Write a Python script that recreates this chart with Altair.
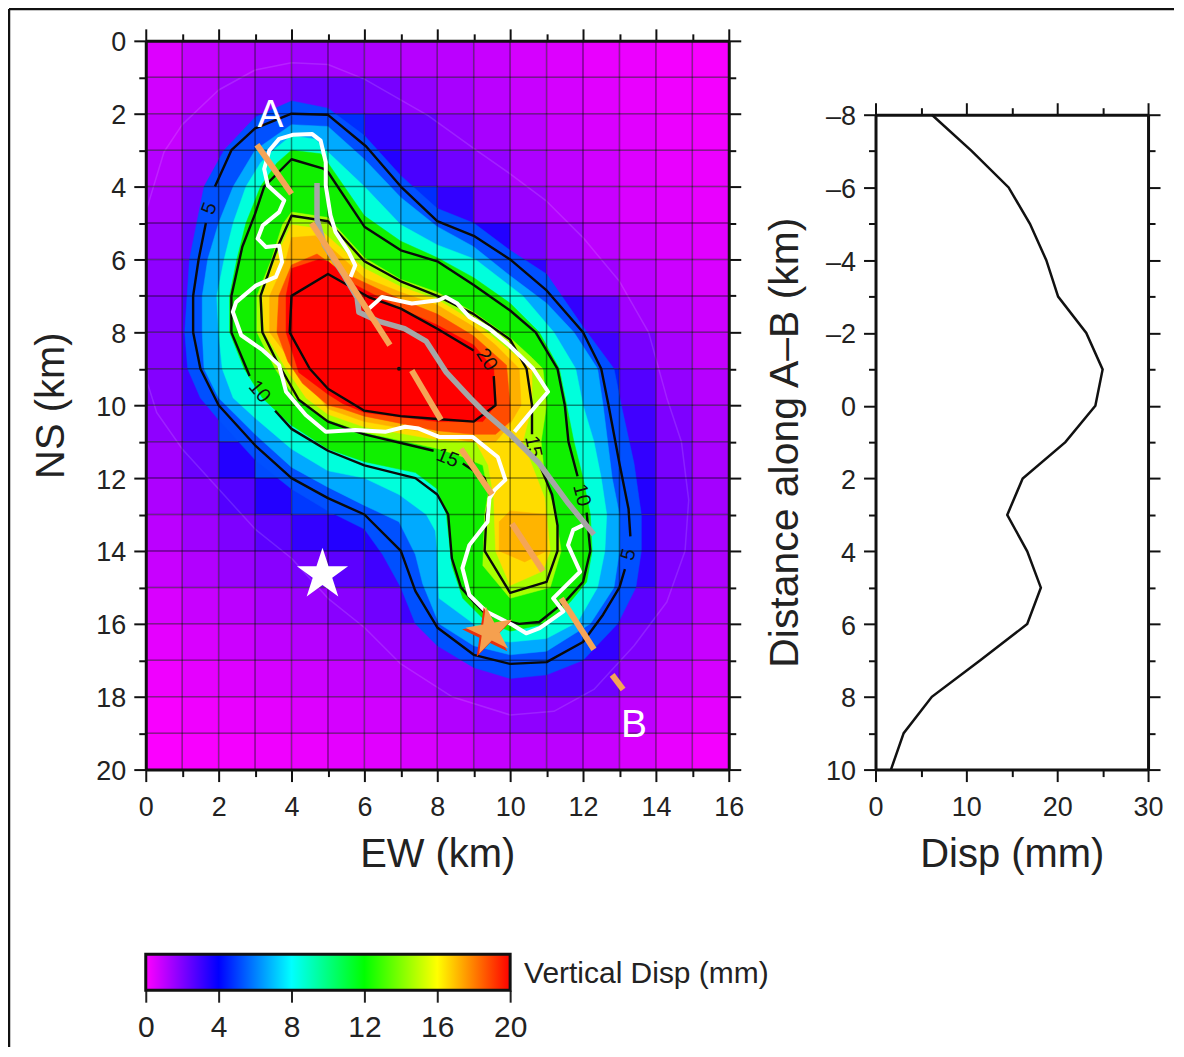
import altair as alt

FONT = "Liberation Sans"

# ---------- background cell values (mm), rows NS 0-19, cols EW 0-15
cells = [
 [0.9,1.5,1.8,2.0,2.3,2.2,2.0,1.8,1.7,1.4,1.1,0.9,0.6,0.5,0.3,0.2],
 [1.2,1.8,2.3,2.7,3.2,3.3,3.0,2.5,2.1,1.7,1.4,1.1,0.8,0.6,0.4,0.3],
 [1.5,2.2,3.0,3.6,4.2,4.2,3.8,3.3,2.6,2.1,1.7,1.3,1.0,0.8,0.5,0.4],
 [1.8,2.6,3.6,4.0,4.5,4.5,3.9,3.6,3.1,2.5,2.0,1.6,1.2,0.9,0.6,0.5],
 [2.1,3.0,3.7,4.5,4.5,4.5,4.5,4.2,3.8,3.0,2.4,1.9,1.4,1.0,0.8,0.6],
 [2.4,3.2,4.0,4.5,4.5,4.5,4.5,4.5,4.5,3.9,3.0,2.3,1.7,1.3,1.0,0.8],
 [2.6,3.5,4.2,4.5,4.5,4.5,4.5,4.5,4.5,4.5,3.8,3.0,2.3,1.7,1.3,1.0],
 [2.8,3.7,4.5,4.5,4.5,4.5,4.5,4.5,4.5,4.5,4.5,3.8,3.3,2.3,1.7,1.3],
 [2.8,3.8,4.5,4.5,4.5,4.5,4.5,4.5,4.5,4.5,4.5,4.5,3.7,3.0,2.1,1.5],
 [2.8,3.7,4.5,4.5,4.5,4.5,4.5,4.5,4.5,4.5,4.5,4.5,4.1,3.5,2.5,1.8],
 [2.6,3.5,4.5,4.5,4.5,4.5,4.5,4.5,4.5,4.5,4.5,4.5,4.5,3.7,2.9,2.0],
 [2.3,3.2,3.9,4.5,4.5,4.5,4.5,4.5,4.5,4.5,4.5,4.5,4.5,3.8,3.0,2.1],
 [2.0,2.8,3.5,3.9,4.3,4.5,4.5,4.5,4.5,4.5,4.5,4.5,4.5,3.9,3.1,2.2],
 [1.7,2.3,2.9,3.4,3.8,3.9,3.9,4.5,4.5,4.5,4.5,4.5,4.5,3.9,3.0,2.1],
 [1.4,1.9,2.4,2.7,3.0,3.4,3.7,3.9,4.5,4.5,4.5,4.5,4.5,3.8,2.9,2.0],
 [1.0,1.4,1.7,2.1,2.4,2.7,3.1,3.7,4.0,4.5,4.5,4.5,4.0,3.4,2.5,1.7],
 [0.7,1.0,1.3,1.6,1.8,2.1,2.4,2.8,3.4,3.9,4.2,4.0,3.8,2.9,2.1,1.4],
 [0.4,0.7,0.9,1.1,1.3,1.5,1.7,2.1,2.6,3.2,3.6,3.5,3.1,2.3,1.6,1.1],
 [0.2,0.4,0.6,0.7,0.9,1.1,1.2,1.5,1.9,2.3,2.6,2.6,2.2,1.6,1.1,0.7],
 [0.1,0.2,0.3,0.4,0.5,0.7,0.8,1.0,1.2,1.5,1.7,1.7,1.4,1.0,0.6,0.3],
]
cpt_values = [0, 4, 8, 12, 16, 20]
cpt_colors = ["#ff00ff", "#0000ff", "#00ffff", "#00ff00", "#ffff00", "#ff0000"]

# ---------- filled bands (EW km, NS km)
band_blue = [(1.07,8),(1.2,6),(1.6,4),(2.15,3),(3,2.1),(4,1.65),(5,1.85),(6,2.6),(7,3.7),(8,4.6),(9,5),(10,5.75),(11,6.4),(12,7.85),(12.85,9),(13.05,10),(13.4,11.6),(13.6,13),(13.6,14),(13.45,15),(12.95,16),(12,17),(11,17.4),(10,17.5),(9,17.2),(8,16.6),(7.4,16),(7,15),(6.5,14.1),(6,13.4),(5,12.9),(4,12.3),(3,11.5),(2,10.4),(1.5,9.8),(1.15,9)]
band_azure = [(1.55,8),(1.55,7),(1.7,6),(2,5),(2.4,4),(3,3),(4,2.3),(5,2.35),(6,3.25),(7,4.3),(8,5.1),(9,5.65),(10,6.45),(11,7.2),(11.75,8),(12.4,9),(12.55,10),(12.8,12),(13,13),(13,14),(12.85,15),(12.2,16),(11,16.75),(10,16.85),(9,16.6),(8.05,16),(7.6,14.9),(7.4,14.1),(6.95,13.2),(6,12.75),(5,12.25),(4,11.7),(3,10.8),(2,9.8),(1.6,9)]
band_teal = [(2,8),(1.95,7),(2.15,6),(2.4,5),(2.75,4),(3.15,3.35),(3.5,3),(4,2.6),(4.65,2.7),(5,3.05),(6,4),(7,5.05),(8,5.6),(9.05,6),(10.35,7),(11.2,8),(11.8,9),(12,10),(12.3,11),(12.5,12),(12.65,13),(12.6,14),(12.4,15),(11.85,15.95),(11,16.4),(10,16.5),(9.3,16.4),(9,16),(8.05,15.3),(8,14),(7.95,13.45),(7.7,13),(6.95,12.45),(6,12),(5,11.8),(4,11.2),(3,10.35),(2.4,9.8),(2.1,9)]
band_green = [(2.3,8),(2.3,7),(2.5,6),(2.75,5),(3.15,4),(3.6,3.35),(4,3),(4.8,3.1),(5,3.35),(6,4.8),(7,5.5),(8,5.95),(9,6.5),(10,7.2),(10.8,8),(11.35,9),(11.55,10),(11.75,11),(12,12),(12.2,13),(12.25,14),(12.1,14.85),(11.65,15.4),(11,16),(10,16.2),(9.35,15.95),(8.7,15.3),(8.4,14.4),(8.25,13),(8,12.3),(7.4,11.85),(6,11.55),(5,11.2),(4,10.55),(3.2,9.8),(2.7,9)]
band_lime = [(3.05,8),(3.05,7),(3.45,6),(3.75,5.05),(4,4.7),(5,4.85),(6,5.95),(7,6.55),(8,6.9),(9,7.45),(10,8.15),(10.6,8.7),(10.9,9),(11,10),(10.85,11),(10.95,12),(11.25,13),(11.4,14),(11.1,15),(10,15.3),(9.25,14.4),(9.3,13),(9.4,12.4),(9.25,11.65),(8.65,11.4),(8.05,11.2),(6,10.75),(5,10.4),(4.1,9.8),(3.55,9)]
band_yellow = [(3.25,8),(3.2,7),(3.55,6),(3.85,5.35),(4,5.05),(4.75,5.15),(6,6.25),(7,6.75),(8,7.1),(9,7.7),(9.8,8.35),(10.6,9),(10.6,10),(10.35,11),(10.6,11.65),(10.95,12.55),(11.1,14),(10.9,14.55),(10,14.95),(9.6,14),(9.55,12.55),(9.4,11.65),(9.05,11),(8,10.95),(6,10.6),(5,10.25),(4.4,9.8),(3.85,9)]
band_orange = [(3.4,8),(3.4,7),(3.85,6),(4,5.4),(4.65,5.35),(5,5.6),(6,6.5),(7,6.9),(8,7.25),(9,7.85),(9.6,8.35),(10.25,9),(10.3,10),(9.95,10.6),(9.6,11),(8.9,11),(8,10.8),(6,10.45),(5,10.1),(4.15,9)]
band_orange_south = [(9.7,13.2),(10,12.9),(11,13),(11,14),(10.4,14.3),(9.7,14)]
band_redorange = [(3.6,8),(3.65,7),(4,6.15),(4.7,5.85),(5.4,6.35),(7,7.1),(8,7.5),(9,8.1),(9.9,8.9),(10,10),(10,10.45),(9.6,10.8),(9,10.8),(8,10.7),(6,10.3),(5.4,10.1),(5,10),(4.3,9.4),(3.9,8.8)]
band_red = [(3.85,8),(3.85,7),(4,6.25),(4.75,6),(5,6.05),(5.75,6.7),(7,7.35),(8,7.8),(9,8.35),(9.55,9),(9.6,10),(9.25,10.45),(8,10.45),(6,10.2),(5.4,9.95),(5,9.7),(4.2,9.1)]

# ---------- contours
faint = [(0.05,9.4),(0.0,4.7),(0.5,3.05),(1,2.3),(2,1.35),(3,0.8),(4,0.6),(5,0.65),(6,1.05),(7.75,2.05),(9,2.95),(10,3.65),(11,4.4),(12,5.4),(13,6.6),(13.8,8),(14.3,9.8),(14.7,11),(14.9,12.6),(14.8,14),(14.3,15.4),(13.4,16.6),(12.3,17.8),(11.2,18.4),(10,18.5),(8.4,18),(7,17.1),(6,16.1),(5,15.3),(4,14.2),(3,13.4),(2,12.3),(1,11.2),(0.3,10.2),(0.05,9.4)]
c5a = [(1.9,4),(2.35,3),(3,2.4),(4,2),(5,2.03),(6.05,2.9),(7,4),(8,4.95),(9,5.35),(10,6),(11,6.85),(12,8),(12.5,9),(12.7,10),(13,11.6),(13.25,12.85),(13.3,13.6)]
c5b = [(13.15,14.5),(13,15),(12.55,15.75),(12,16.5),(11,17.05),(10,17.1),(9,16.85),(8,16.1),(7.4,15.1),(7,14),(6,13),(5,12.55),(4,12),(3,11.1),(2,10),(1.5,9),(1.3,8),(1.3,7),(1.45,6),(1.65,5)]
c10a = [(2.85,9.2),(2.35,8),(2.35,7),(2.65,5.65),(3,4.75),(3.25,4),(4,3.25),(4.85,3.5),(5,3.6),(6,5.1),(7,5.75),(8,6.05),(9,6.7),(10,7.4),(10.7,8),(11.3,9),(11.5,10),(11.6,11),(11.85,11.95)]
c10b = [(12.1,12.95),(12.2,14),(12,14.85),(11.55,15.35),(10.8,15.95),(10.25,16),(10,15.95),(9.3,15.7),(9,15.4),(8.65,15),(8.4,14.2),(8.3,13),(8,12.45),(7.4,12),(6,11.65),(5,11.25),(4,10.65),(3.55,10.15)]
c15a = [(7.9,11.25),(6,10.8),(5,10.45),(4.2,9.85),(3.6,8.8),(3.2,8),(3.15,7),(3.6,5.7),(4,4.8),(5,4.95),(6,6.05),(7,6.6),(8,7),(9,7.5),(10,8.2),(10.45,9),(10.6,10),(10.6,10.8)]
c15b = [(10.75,11.5),(11.15,12.45),(11.3,13.3),(11.3,14),(11,14.85),(10,15.15),(9.3,14),(9.35,13),(9.45,12.5),(9.3,12),(8.7,11.6)]
c20 = [(9.55,9.2),(9.6,10),(9,10.45),(8,10.38),(7,10.3),(6,10.15),(5,9.55),(4.5,9),(3.95,8),(4,7),(5,6.4),(6.15,7.05),(7,7.35),(8,7.9),(9,8.5)]
contour_labels = [("5",1.75,4.6,290),("5",13.25,14.1,285),("10",3.12,9.63,50),("10",11.96,12.47,75),("15",8.28,11.45,22),("15",10.63,11.14,78),("20",9.35,8.75,58)]

# ---------- overlay lines
white_a = [(5.62,6.48),(5.75,6.16),(5.57,5.8),(5.21,5.25),(5.07,4.79),(4.94,3.97),(4.94,3.33),(4.8,2.74),(4.57,2.56),(4.03,2.58),(3.66,2.69),(3.39,3.01),(3.25,3.52),(3.35,3.97),(3.8,4.38),(3.66,4.7),(3.21,5.07),(3.07,5.43),(3.3,5.66),(3.66,5.62),(3.74,6.07),(3.57,6.48),(3.03,6.71),(2.48,7.17),(2.39,7.44),(2.62,8.08),(3.21,8.49),(3.66,8.9),(3.85,9.63),(4.39,10.27),(4.94,10.73),(5.75,10.68),(6.57,10.73),(7.12,10.59),(7.49,10.64),(8.05,10.87),(8.97,10.87),(9.66,11.42),(9.87,12.05),(9.57,12.33),(9.43,12.56),(9.38,13.2),(8.88,13.84),(8.69,14.47),(8.88,15.21),(9.34,15.66),(10.07,16.03),(10.44,16.26),(10.81,16.12),(11.46,15.66),(11.18,15.3),(11.92,14.57),(11.59,13.84),(11.73,13.42),(12.0,13.29)]
white_b = [(6.12,7.35),(6.48,7.03),(7.3,7.21),(8.03,7.12),(8.23,7.03),(8.55,7.21),(8.88,7.58),(9.43,7.9),(9.98,8.36),(10.63,9.0),(11.04,9.63),(10.72,10),(10.12,10.73)]
gray_line = [(4.7,3.9),(4.7,4.9),(4.9,5.6),(5.45,6.45),(5.8,7.05),(5.85,7.45),(6.4,7.7),(7.1,7.9),(7.7,8.25),(8.25,9.1),(8.9,9.8),(9.3,10.2),(10,10.8),(10.8,11.6),(11.6,12.7),(12.3,13.55)]
profile_dashes = [[(3.05,2.85),(4,4.2)],[(4.55,5),(6.7,8.35)],[(7.3,9.05),(8.1,10.4)],[(8.65,11.2),(9.5,12.45)],[(10.05,13.25),(10.9,14.55)],[(11.4,15.3),(12.3,16.7)],[(12.8,17.4),(13.1,17.8)]]
star_white = (4.85,14.65)
star_orange = (9.45,16.2)
dot = (6.95,9.0)
point_a = ("A",3.42,2.03)
point_b = ("B",13.4,18.77)

# ---------- profile panel
profile_dist = [-8,-7,-6,-5,-4,-3,-2,-1,0,1,2,3,4,5,6,7,8,9,10]
profile_disp = [6.2,10.6,14.65,17,18.8,20.1,23.2,25,24.2,20.9,16.2,14.5,16.7,18.2,16.7,11.5,6.2,3.1,1.7]

# ---------- axis ticks
map_x_major = [0,2,4,6,8,10,12,14,16]
map_x_minor = [1,3,5,7,9,11,13,15]
map_y_major = [0,2,4,6,8,10,12,14,16,18,20]
map_y_minor = [1,3,5,7,9,11,13,15,17,19]
grid_x = [1,2,3,4,5,6,7,8,9,10,11,12,13,14,15]
grid_y = [1,2,3,4,5,6,7,8,9,10,11,12,13,14,15,16,17,18,19]
prof_x_major = [0,10,20,30]
prof_x_minor = [5,15,25]
prof_y_major = [-8,-6,-4,-2,0,2,4,6,8,10]
prof_y_minor = [-7,-5,-3,-1,1,3,5,7,9]
cbar_ticks = [0,4,8,12,16,20]

MAP_W, MAP_H = 584, 730
PROF_W, PROF_H = 273, 656
CB_W, CB_H = 365, 36

STAR = "M0,-1L.225,-.309L.951,-.309L.363,.118L.588,.809L0,.382L-.588,.809L-.363,.118L-.951,-.309L-.225,-.309Z"
mx = alt.Scale(domain=[0,16], nice=False, zero=False)
my = alt.Scale(domain=[0,20], reverse=True, nice=False, zero=False)
px = alt.Scale(domain=[0,30], nice=False, zero=False)
py = alt.Scale(domain=[-8,10], reverse=True, nice=False, zero=False)

def pts(seq):
    return alt.Data(values=[{"x":a,"y":b,"i":k} for k,(a,b) in enumerate(seq)])

def line_enc(xs, ys):
    return dict(x=alt.X("x:Q",scale=xs,axis=None), y=alt.Y("y:Q",scale=ys,axis=None), order="i:Q")

def poly(seq, color):
    return alt.Chart(pts(list(seq)+[seq[0]])).mark_line(fill=color, stroke=color, strokeWidth=0.5).encode(**line_enc(mx,my))

def stroke(seq, color, width, opacity=1, xs=mx, ys=my):
    return alt.Chart(pts(seq)).mark_line(stroke=color, strokeWidth=width, opacity=opacity, strokeJoin="round").encode(**line_enc(xs,ys))

def axes_layers(xmaj,xmin,ymaj,ymin,xs,ys,xtitle,ytitle,tpx,tpy,lab_expr=None,ysize=40):
    def ax(orient, vals, size, labels=False, title=None, tp=0, domain=False, tsize=40):
        kw = dict(orient=orient, values=vals, tickSize=size, tickWidth=2, tickColor="#111", grid=False,
                  labels=labels, domain=domain, domainColor="#111", domainWidth=3, zindex=2,
                  labelFont=FONT, labelFontSize=27, labelColor="#222", labelFlush=False,
                  labelPadding=13 if orient == "bottom" else 8,
                  labelOffset=2 if orient == "left" else 0,
                  titleFont=FONT, titleFontSize=tsize, titleFontWeight="normal", titleColor="#222", titlePadding=tp, format="d")
        kw["title"] = title
        if labels and lab_expr and orient == "left":
            kw["labelExpr"] = lab_expr
        return alt.Axis(**kw)
    base = alt.Data(values=[{"x":xmaj[0],"y":ymaj[0]}])
    def layer(xa, ya):
        return alt.Chart(base).mark_point(opacity=0).encode(
            x=alt.X("x:Q",scale=xs,axis=xa), y=alt.Y("y:Q",scale=ys,axis=ya))
    return [
        layer(ax("bottom",xmaj,12,True,xtitle,tpx,True), ax("left",ymaj,12,True,ytitle,tpy,True,tsize=ysize)),
        layer(ax("bottom",xmin,7), ax("left",ymin,7)),
        layer(ax("top",xmaj,12,domain=True), ax("right",ymaj,12,domain=True)),
        layer(ax("top",xmin,7), ax("right",ymin,7)),
    ]

# ---------- map panel
cell_rows = [{"x":c,"x2":c+1,"y":r,"y2":r+1,"v":cells[r][c]} for r in range(20) for c in range(16)]
layers = [alt.Chart(alt.Data(values=cell_rows)).mark_rect(strokeWidth=0).encode(
    x=alt.X("x:Q",scale=mx,axis=None), x2="x2:Q",
    y=alt.Y("y:Q",scale=my,axis=None), y2="y2:Q",
    color=alt.Color("v:Q",scale=alt.Scale(domain=cpt_values,range=cpt_colors),legend=None))]
layers.append(stroke(faint,"#ffffff",1.5,0.13))
for seq,col in [(band_blue,"#0050ff"),(band_azure,"#00aaff"),(band_teal,"#00ffdc"),(band_green,"#10f000"),
                (band_lime,"#a8ff00"),(band_yellow,"#ffdc00"),(band_orange,"#ffb000"),(band_orange_south,"#ffb400"),
                (band_redorange,"#ff4c00"),(band_red,"#ff0000")]:
    layers.append(poly(seq,col))
layers.append(alt.Chart(alt.Data(values=[{"x":v} for v in grid_x])).mark_rule(stroke="#000",strokeWidth=1.5,opacity=0.45).encode(x=alt.X("x:Q",scale=mx,axis=None)))
layers.append(alt.Chart(alt.Data(values=[{"y":v} for v in grid_y])).mark_rule(stroke="#000",strokeWidth=1.5,opacity=0.45).encode(y=alt.Y("y:Q",scale=my,axis=None)))
for seq in [c5a,c5b,c10a,c10b,c15a,c15b,c20]:
    layers.append(stroke(seq,"#0a0a0a",2.4))
layers.append(alt.Chart(alt.Data(values=[{"x":dot[0],"y":dot[1]}])).mark_point(filled=True,color="#111",size=16,opacity=1).encode(x=alt.X("x:Q",scale=mx,axis=None),y=alt.Y("y:Q",scale=my,axis=None)))
for t,x,y,a in contour_labels:
    layers.append(alt.Chart(alt.Data(values=[{"x":x,"y":y,"t":t}])).mark_text(font=FONT,fontSize=20,color="#111",angle=a,align="center",baseline="middle").encode(
        x=alt.X("x:Q",scale=mx,axis=None),y=alt.Y("y:Q",scale=my,axis=None),text="t:N"))
layers.append(stroke(white_a,"#ffffff",4))
layers.append(stroke(white_b,"#ffffff",4))
layers.append(stroke(gray_line,"#a6a6a6",5.5))
for d in profile_dashes:
    layers.append(stroke(d,"#f5a556",6))
def star(pos,fill,size,angle=0):
    kw = dict(shape=STAR,filled=True,fill=fill,size=size,opacity=1)
    if angle:
        kw["angle"]=angle
    return alt.Chart(alt.Data(values=[{"x":pos[0],"y":pos[1]}])).mark_point(**kw).encode(
        x=alt.X("x:Q",scale=mx,axis=None),y=alt.Y("y:Q",scale=my,axis=None))
layers.append(star(star_white,"#ffffff",2900))
layers.append(star((star_orange[0]-0.05,star_orange[1]+0.05),"#e8300c",2800,350))
layers.append(star(star_orange,"#f5a04f",2500,350))
for t,x,y in [point_a,point_b]:
    layers.append(alt.Chart(alt.Data(values=[{"x":x,"y":y,"t":t}])).mark_text(font=FONT,fontSize=39,color="#ffffff",align="center",baseline="middle").encode(
        x=alt.X("x:Q",scale=mx,axis=None),y=alt.Y("y:Q",scale=my,axis=None),text="t:N"))
layers += axes_layers(map_x_major,map_x_minor,map_y_major,map_y_minor,mx,my,"EW (km)","NS (km)",14,24)
# page frame: top and left edges of the picture
layers.append(alt.Chart(alt.Data(values=[{"x":0}])).mark_rule(stroke="#111",strokeWidth=2.5).encode(x=alt.value(-137),y=alt.value(-32),y2=alt.value(1008)))
layers.append(alt.Chart(alt.Data(values=[{"x":0}])).mark_rule(stroke="#111",strokeWidth=2.5).encode(x=alt.value(-137),x2=alt.value(1030),y=alt.value(-32)))
map_chart = alt.layer(*layers).resolve_axis(x="independent",y="independent").properties(width=MAP_W,height=MAP_H)

# ---------- profile panel
prof_layers = [alt.Chart(alt.Data(values=[{"x":a,"y":b,"i":k} for k,(a,b) in enumerate(zip(profile_disp,profile_dist))])).mark_line(stroke="#111",strokeWidth=2.5).encode(**line_enc(px,py))]
prof_layers += axes_layers(prof_x_major,prof_x_minor,prof_y_major,prof_y_minor,px,py,"Disp (mm)","Distance along A\u2013B (km)",14,19,
                           "replace(replace(datum.label,'\u2212','\u2013'),'-','\u2013')",ysize=41)
prof_chart = alt.layer(*prof_layers).resolve_axis(x="independent",y="independent").properties(width=PROF_W,height=PROF_H)
spacer = alt.Chart(alt.Data(values=[{"x":0}])).mark_point(opacity=0).encode(x=alt.X("x:Q",axis=None)).properties(width=PROF_W,height=74)
right_col = alt.vconcat(spacer,prof_chart,spacing=0,bounds="flush")

# ---------- colour bar
grad = alt.Gradient(gradient="linear",x1=0,x2=1,y1=0,y2=0,
    stops=[alt.GradientStop(offset=v/20,color=c) for v,c in zip(cpt_values,cpt_colors)])
cb_x = alt.Scale(domain=[0,20],nice=False,zero=False)
cb_axis = alt.Axis(values=cbar_ticks,orient="bottom",tickSize=12,tickWidth=2,tickColor="#222",domain=False,grid=False,
        labelFont=FONT,labelFontSize=30,labelColor="#222",labelPadding=10,format="d",title=None,labelFlush=False)
cbar = alt.Chart(alt.Data(values=[{"x":0,"x2":20}])).mark_rect(fill=grad,stroke="#111",strokeWidth=3).encode(
    x=alt.X("x:Q",scale=cb_x,axis=cb_axis),
    x2="x2:Q")
cbar_text = alt.Chart(alt.Data(values=[{"x":20,"t":"Vertical Disp (mm)"}])).mark_text(font=FONT,fontSize=30,color="#222",align="left",baseline="middle",dx=14,dy=2).encode(
    x=alt.X("x:Q",scale=cb_x,axis=cb_axis),text="t:N")
cbar_chart = alt.layer(cbar,cbar_text).properties(width=CB_W,height=CB_H)

chart = alt.concat(map_chart,right_col,cbar_chart,columns=2,spacing=alt.RowColnumber(row=185,column=147),bounds="flush",align="none").properties(
    padding={"left":-1,"top":-2,"right":0,"bottom":0},background="#ffffff"
).configure_view(stroke=None)

chart.save("out.html", embed_options={"renderer":"svg","actions":False})
